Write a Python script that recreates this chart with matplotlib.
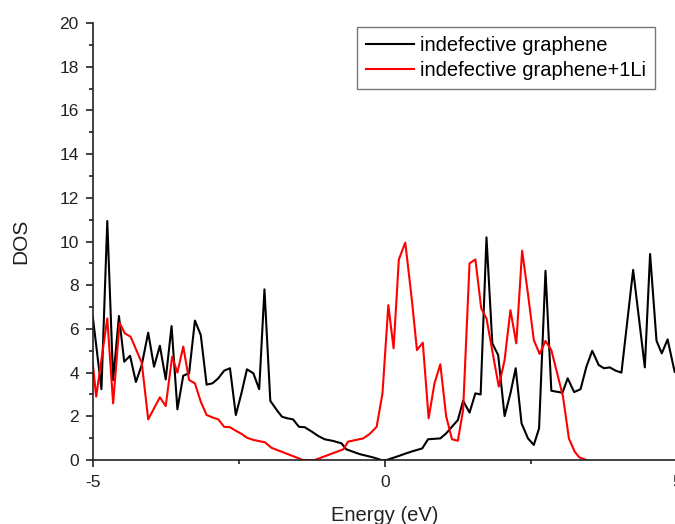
import matplotlib
matplotlib.use('Agg')
import matplotlib.pyplot as plt
from matplotlib.ticker import MultipleLocator

# Data (energy in eV, DOS)
energy_pristine = [-5.0, -4.85, -4.75, -4.65, -4.55, -4.46, -4.36, -4.26, -4.16, -4.05,
                   -3.95, -3.85, -3.75, -3.65, -3.55, -3.45, -3.35, -3.25, -3.15, -3.05,
                   -2.95, -2.85, -2.75, -2.65, -2.55, -2.45, -2.36, -2.25, -2.15, -2.06,
                   -1.96, -1.85, -1.76, -1.67, -1.57, -1.47, -1.37, -1.25, -1.14, -1.03,
                   -0.88, -0.74, -0.66, -0.43, -0.2, -0.06, 0.03, 0.2, 0.37, 0.51,
                   0.64, 0.74, 0.95, 1.05, 1.25, 1.34, 1.45, 1.55, 1.64, 1.74,
                   1.84, 1.94, 2.05, 2.15, 2.24, 2.34, 2.45, 2.55, 2.64, 2.75,
                   2.85, 3.04, 3.13, 3.24, 3.35, 3.45, 3.55, 3.66, 3.75, 3.85,
                   3.95, 4.05, 4.25, 4.45, 4.54, 4.65, 4.74, 4.84, 4.96]
dos_pristine = [6.6, 3.24, 10.94, 3.66, 6.59, 4.5, 4.77, 3.57, 4.35, 5.83,
                4.27, 5.23, 3.69, 6.13, 2.32, 3.86, 3.97, 6.38, 5.72, 3.45,
                3.51, 3.74, 4.09, 4.2, 2.06, 3.1, 4.15, 3.97, 3.24, 7.81,
                2.71, 2.29, 1.98, 1.91, 1.86, 1.52, 1.5, 1.3, 1.1, 0.95,
                0.87, 0.76, 0.49, 0.27, 0.12, 0.0, 0.0, 0.15, 0.31, 0.43,
                0.53, 0.95, 0.99, 1.22, 1.83, 2.71, 2.17, 3.05, 3.0, 10.19,
                5.34, 4.8, 2.01, 3.05, 4.2, 1.68, 0.99, 0.69, 1.45, 8.66,
                3.17, 3.08, 3.74, 3.11, 3.24, 4.27, 5.0, 4.35, 4.2, 4.24,
                4.09, 4.0, 8.7, 4.24, 9.43, 5.46, 4.88, 5.52, 4.04]

energy_li = [-5.0, -4.94, -4.75, -4.65, -4.54, -4.45, -4.35, -4.16, -4.05, -3.85,
             -3.75, -3.64, -3.55, -3.45, -3.35, -3.25, -3.15, -3.05, -2.95, -2.85,
             -2.75, -2.65, -2.55, -2.45, -2.36, -2.25, -2.05, -1.94, -1.4, -1.2,
             -0.71, -0.63, -0.37, -0.26, -0.14, -0.04, 0.06, 0.15, 0.24, 0.35,
             0.46, 0.55, 0.65, 0.75, 0.85, 0.95, 1.05, 1.15, 1.25, 1.34,
             1.45, 1.55, 1.65, 1.74, 1.95, 2.05, 2.15, 2.25, 2.35, 2.45,
             2.55, 2.65, 2.75, 2.85, 3.05, 3.15, 3.25, 3.33, 3.45]
dos_li = [4.46, 2.9, 6.48, 2.59, 6.28, 5.8, 5.64, 4.45, 1.86, 2.87,
          2.47, 4.73, 4.0, 5.19, 3.66, 3.51, 2.67, 2.06, 1.95, 1.86,
          1.52, 1.5, 1.34, 1.19, 1.02, 0.92, 0.81, 0.56, 0.0, 0.0,
          0.49, 0.84, 0.99, 1.19, 1.52, 3.05, 7.09, 5.11, 9.18, 9.95,
          7.4, 5.03, 5.37, 1.91, 3.51, 4.38, 2.0, 0.95, 0.88, 2.29,
          9.0, 9.18, 6.94, 6.48, 3.36, 4.58, 6.86, 5.34, 9.58, 7.6,
          5.49, 4.85, 5.45, 5.03, 2.9, 0.99, 0.38, 0.12, 0.0]

labels = ['indefective graphene', 'indefective graphene+1Li']


def plot_dos():
    plt.rcParams['font.family'] = ['Liberation Sans', 'DejaVu Sans']
    plt.rcParams['axes.unicode_minus'] = False

    fig = plt.figure(figsize=(6.75, 5.24), dpi=100)
    # axes right edge runs just past the figure, like the cropped original
    ax = fig.add_axes([0.1373, 0.1221, 0.8656, 0.834])

    ax.plot(energy_pristine, dos_pristine, color='black', linewidth=1.5, label=labels[0])
    ax.plot(energy_li, dos_li, color='#ff0000', linewidth=1.5, label=labels[1])

    ax.set_xlim(-5, 5)
    ax.set_ylim(0, 20)
    ax.xaxis.set_major_locator(MultipleLocator(5))
    ax.xaxis.set_minor_locator(MultipleLocator(2.5))
    ax.yaxis.set_major_locator(MultipleLocator(2))
    ax.yaxis.set_minor_locator(MultipleLocator(1))

    for side in ['top', 'right']:
        ax.spines[side].set_visible(False)
    for side in ['left', 'bottom']:
        ax.spines[side].set_linewidth(1.2)
        ax.spines[side].set_color('#222222')

    ax.tick_params(which='major', length=5, width=1.2, color='#222222',
                   labelsize=12.5, labelcolor='#222222')
    ax.tick_params(which='minor', length=3, width=1.2, color='#222222')
    ax.tick_params(axis='y', pad=5)
    ax.tick_params(axis='x', pad=6)

    ax.set_xlabel('Energy (eV)', fontsize=14.5, color='#222222')
    ax.set_ylabel('DOS', fontsize=15, color='#222222')
    ax.xaxis.set_label_coords(0.5, -0.105)
    ax.yaxis.set_label_coords(-0.107, 0.5)

    leg = ax.legend(loc='upper right', bbox_to_anchor=(0.962, 0.991),
                    borderaxespad=0, fontsize=14.5, frameon=True, fancybox=False,
                    handlelength=2.35, handletextpad=0.3, labelspacing=0.28,
                    borderpad=0.45)
    leg.get_frame().set_edgecolor('#555555')
    leg.get_frame().set_linewidth(1.0)

    fig.savefig('out.png', dpi=100)
    plt.close(fig)


def main():
    plot_dos()


if __name__ == "__main__":
    main()
